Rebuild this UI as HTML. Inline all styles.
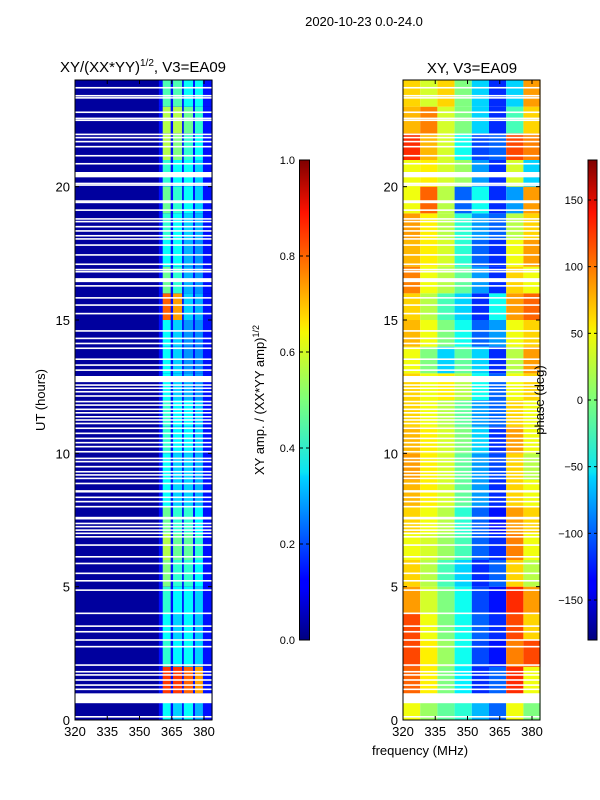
<!DOCTYPE html>
<html><head><meta charset="utf-8"><style>
body{margin:0;background:#fff;}
svg{display:block;font-family:"Liberation Sans",sans-serif;}
</style></head><body>
<svg id="fig" width="600" height="800" viewBox="0 0 600 800" xmlns="http://www.w3.org/2000/svg">
<defs>
<linearGradient id="jet" x1="0" y1="1" x2="0" y2="0">
<stop offset="0" stop-color="#00007f"/><stop offset="0.11" stop-color="#0000ff"/><stop offset="0.125" stop-color="#0000ff"/>
<stop offset="0.34" stop-color="#00d4ff"/><stop offset="0.35" stop-color="#0ae4f4"/><stop offset="0.5" stop-color="#7dff7a"/>
<stop offset="0.64" stop-color="#f4f802"/><stop offset="0.66" stop-color="#ffe500"/><stop offset="0.89" stop-color="#ff1200"/><stop offset="1" stop-color="#7f0000"/>
</linearGradient>
</defs>
<text x="364" y="26" font-size="13" text-anchor="middle">2020-10-23 0.0-24.0</text>
<text x="143" y="72" font-size="15" text-anchor="middle">XY/(XX*YY)<tspan font-size="10" dy="-6">1/2</tspan><tspan dy="6">, V3=EA09</tspan></text>
<text x="472" y="73" font-size="15" text-anchor="middle">XY, V3=EA09</text>
<g id="left"></g>
<g id="right"></g>
<g id="axes"></g>
<text transform="translate(45,400) rotate(-90)" font-size="13" text-anchor="middle">UT (hours)</text>
<text x="420" y="755" font-size="13" text-anchor="middle">frequency (MHz)</text>
<rect x="299.5" y="160" width="10" height="480" fill="url(#jet)" stroke="#000" stroke-width="1"/>
<rect x="588" y="160" width="9" height="480" fill="url(#jet)" stroke="#000" stroke-width="1"/>
<text transform="translate(264,400) rotate(-90)" font-size="13" text-anchor="middle">XY amp. / (XX*YY amp)<tspan font-size="9" dy="-5">1/2</tspan></text>
<text transform="translate(544,400) rotate(-90)" font-size="13" text-anchor="middle">phase (deg)</text>
<g id="cb"></g>
</svg>
<script>
const NS="http://www.w3.org/2000/svg";
const hourRows=[0,1,2,3,4,5,6,7,8,9,10,11,12,13,14,15,16,17,18,19,20,21,22,23];
const ampBandFreqs=[[360.8,364.5],[365.6,369.8],[370.6,374.9],[375.8,379.5]];
const ampBands=[
[0.38,0.33,0.38,0.3],[0.82,0.82,0.78,0.72],[0.42,0.37,0.38,0.33],[0.38,0.33,0.37,0.32],
[0.42,0.37,0.37,0.33],[0.5,0.42,0.42,0.37],[0.55,0.48,0.47,0.42],[0.48,0.42,0.42,0.37],
[0.38,0.33,0.33,0.3],[0.38,0.33,0.33,0.3],[0.42,0.37,0.37,0.33],[0.42,0.37,0.37,0.33],
[0.38,0.33,0.3,0.27],[0.38,0.33,0.27,0.26],[0.38,0.33,0.27,0.26],[0.78,0.72,0.33,0.3],
[0.48,0.42,0.3,0.27],[0.38,0.38,0.3,0.27],[0.42,0.38,0.33,0.3],[0.48,0.42,0.38,0.33],
[0.42,0.38,0.38,0.33],[0.55,0.5,0.42,0.38],[0.55,0.55,0.48,0.42],[0.45,0.45,0.38,0.38]];
const ampBackground=0.03;
const ampBetween=0.14;
const phaseColFreqs=[320,328,336,344,352,360,368,376,384];
const phaseGrid=[
[40,10,-10,-30,-70,-100,40,0],[100,50,0,-50,-120,-100,120,40],[110,50,10,-40,-110,-130,90,110],
[110,40,0,-40,-100,-120,110,60],[80,30,0,-40,-110,-130,120,80],[60,20,-20,-60,-120,-100,60,20],
[40,30,10,-20,-100,-120,90,40],[60,40,20,-30,-100,-130,80,60],[70,50,30,-10,-80,-120,60,40],
[80,50,30,-10,-80,-110,60,20],[70,50,30,0,-60,-120,80,40],[60,40,20,-10,-80,-100,60,40],
[60,40,50,20,-40,-100,40,60],[40,0,-60,-10,-60,-120,20,80],[70,40,0,-40,-100,-80,40,60],
[60,20,-20,-60,-120,-40,80,100],[90,40,20,-10,-80,-120,60,40],[70,50,30,-30,-100,-120,40,80],
[80,50,20,-30,-80,-100,20,60],[40,100,20,-100,-40,-120,-80,80],[40,50,30,10,-80,-120,30,-60],
[120,70,30,-40,-110,-100,110,90],[70,90,30,0,-60,-120,-20,60],[60,30,60,0,-60,-120,-60,80]];
const bigGaps=[[0.63,1.0],[8.53,8.62],[7.52,7.62],[12.67,12.9],[16.42,16.57],[20.35,20.55]];
const thinGaps=[23.71,23.41,23.33,22.79,22.56,22.49,21.96,21.84,21.69,21.5,21.16,20.86,20.12,20.06,19.46,19.41,19.12,18.79,18.69,18.5,18.34,18.16,18.04,17.81,17.44,17.09,16.89,16.81,16.28,15.83,15.56,15.24,14.59,14.31,14.12,13.94,13.53,13.31,13.12,12.56,12.44,12.31,12.15,11.94,11.81,11.65,11.52,11.37,11.25,11.12,10.94,10.75,10.56,10.4,10.25,10.06,9.81,9.69,9.5,9.31,9.19,9.06,8.87,8.35,8.19,8.0,7.37,7.25,7.12,7.0,6.87,6.56,6.12,5.87,5.5,5.22,4.87,4.0,3.52,3.31,3.0,2.75,2.06,1.81,1.69,1.5,1.31,1.15,0.12];
const timeTicks=[0,5,10,15,20];
const freqTicks=[320,335,350,365,380];
const ampTicks=[0.0,0.2,0.4,0.6,0.8,1.0];
const phaseTicks=[-150,-100,-50,0,50,100,150];

function jet(v){v=Math.max(0,Math.min(1,v));
 const f=(x)=>Math.max(0,Math.min(1,1.5-Math.abs(4*v-x)));
 const r=f(3),g=f(2),b=f(1);return `rgb(${Math.round(r*255)},${Math.round(g*255)},${Math.round(b*255)})`;}
const Y=(h)=>720-h*(640/24);
const XL=(f)=>75+(f-320)*2.15;
const XR=(f)=>403+(f-320)*2.15;
const panelW=137;
function rect(g,x,y,w,h,fill,name){const r=document.createElementNS(NS,'rect');
 r.setAttribute('x',x);r.setAttribute('y',y);r.setAttribute('width',w);r.setAttribute('height',h);r.setAttribute('fill',fill);
 
 
 g.appendChild(r);return r;}
function txt(g,x,y,s,anchor,name,size){const t=document.createElementNS(NS,'text');
 t.setAttribute('x',x);t.setAttribute('y',y);t.setAttribute('text-anchor',anchor);t.setAttribute('font-size',size||13);t.textContent=s;
 
 
 g.appendChild(t);}
function line(g,x1,y1,x2,y2,name){const l=document.createElementNS(NS,'line');
 l.setAttribute('x1',x1);l.setAttribute('y1',y1);l.setAttribute('x2',x2);l.setAttribute('y2',y2);l.setAttribute('stroke','#000');l.setAttribute('stroke-width',1);
 
 
 g.appendChild(l);}

const L=document.getElementById('left'),R=document.getElementById('right');
rect(L,75,80,panelW,640,jet(ampBackground),'amp-background');
hourRows.forEach((h,i)=>{
 const y=Y(h+1),hh=Y(h)-Y(h+1);
 rect(L,XL(359),y,XL(384)-XL(359),hh,jet(ampBetween),'amp-band-gap-cell');
 ampBands[i].forEach((v,j)=>{const fr=ampBandFreqs[j];
  rect(L,XL(fr[0]),y,XL(fr[1])-XL(fr[0]),hh,jet(v),'amp-cell');});
 phaseGrid[i].forEach((v,j)=>{
  rect(R,XR(phaseColFreqs[j]),y,XR(phaseColFreqs[j+1])-XR(phaseColFreqs[j]),hh,jet((v+180)/360),'phase-cell');});
});
[L,R].forEach((g,k)=>{const x0=k?403:75;
 bigGaps.forEach(b=>rect(g,x0,Y(b[1]),panelW,Y(b[0])-Y(b[1]),'#fff','flagged-gap'));
 thinGaps.forEach(c=>rect(g,x0,Y(c)-0.8,panelW,1.6,'#fff','flagged-line'));
});
const A=document.getElementById('axes');
[[75,'left'],[403,'right']].forEach(([x0,nm])=>{
 const fr=document.createElementNS(NS,'rect');fr.setAttribute('x',x0);fr.setAttribute('y',80);fr.setAttribute('width',panelW);fr.setAttribute('height',640);fr.setAttribute('fill','none');fr.setAttribute('stroke','#000');
 
 
 A.appendChild(fr);
 const X=nm==='left'?XL:XR;
 timeTicks.forEach(t=>{const y=Y(t);line(A,x0,y,x0+4,y,'y-tick');line(A,x0+panelW,y,x0+panelW-4,y,'y-tick');
  txt(A,x0-5,y+5,String(t),'end','y-tick-label');});
 freqTicks.forEach(f=>{const x=X(f);line(A,x,720,x,716,'x-tick');line(A,x,80,x,84,'x-tick');
  txt(A,x,736,String(f),'middle','x-tick-label');});
});
const C=document.getElementById('cb');
ampTicks.forEach(v=>{const y=640-v*480;line(C,299.5,y,303,y,'amp-cb-tick');line(C,309.5,y,306,y,'amp-cb-tick');
 txt(C,295,y+4,v.toFixed(1),'end','amp-cb-tick-label',11);});
phaseTicks.forEach(v=>{const y=160+(180-v)/360*480;line(C,588,y,591,y,'phase-cb-tick');line(C,597,y,594,y,'phase-cb-tick');
 txt(C,583,y+4,v<0?'\u2212'+(-v):String(v),'end','phase-cb-tick-label',11);});
</script>
</body></html>
